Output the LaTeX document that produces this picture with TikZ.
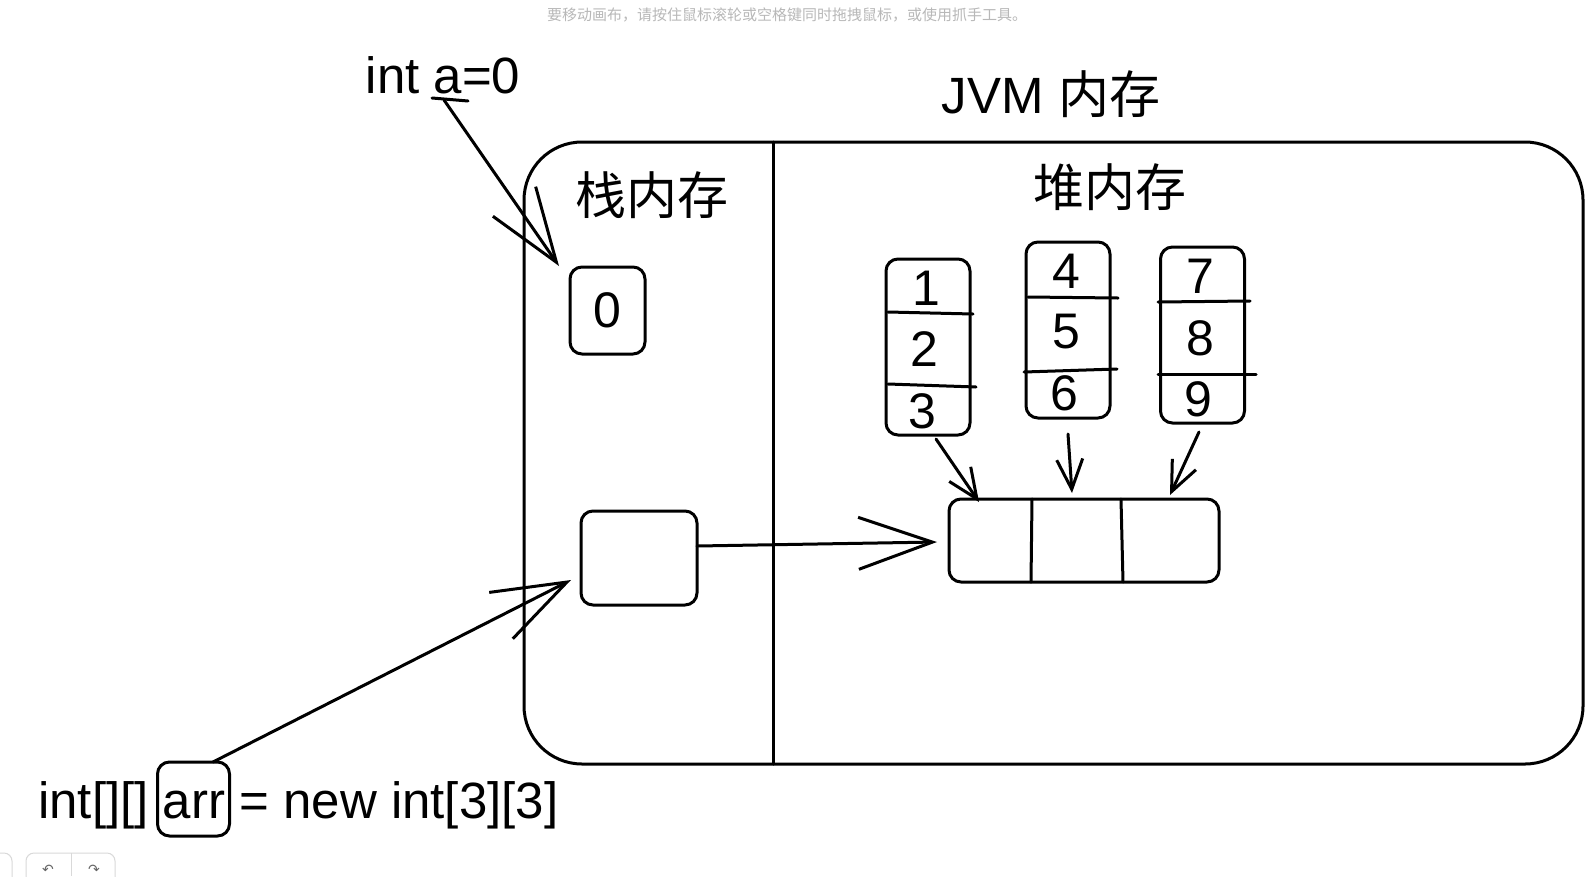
\documentclass[tikz,border=0pt]{standalone}
\usepackage{fontspec}
\setmainfont{Liberation Sans}
\newfontfamily\cjk{Noto Sans CJK SC}
\newfontfamily\djv{DejaVu Sans}
\usetikzlibrary{arrows.meta,calc}
\tikzset{
  ink/.style={line width=3pt, line cap=round, line join=round},
  box/.style={ink, draw, rounded corners=12pt, inner sep=0pt},
  big/.style={font=\fontsize{51}{51}\selectfont, inner sep=0pt},
  num/.style={font=\fontsize{50}{50}\selectfont, inner sep=0pt},
  arrbig/.style={ink, -{Straight Barb[length=74pt, width=52pt, line width=3pt]}},
  arrsmall/.style={ink, -{Straight Barb[length=30pt, width=26pt, line width=3pt]}},
  hint/.style={font=\cjk\fontsize{15}{15}\selectfont, text=black!28, inner sep=0pt},
  ui/.style={draw=black!15, line width=1pt, rounded corners=8pt}
}
\begin{document}
\begin{tikzpicture}[x=1pt,y=-1pt]
\useasboundingbox[fill=white] (0,0) rectangle (1593,876);

% UI hint text and buttons
\node[hint] (hinttext) at (787,15) {要移动画布，请按住鼠标滚轮或空格键同时拖拽鼠标，或使用抓手工具。};
\draw[ui] (-20,853) rectangle (12,890);
\draw[ui] (26,853) rectangle (115,890);
\draw[draw=black!15, line width=1pt] (71,853) -- (71,876);
\node[font=\djv\fontsize{14}{14}\selectfont, text=black!60] (undo) at (48,870) {↶};
\node[font=\djv\fontsize{14}{14}\selectfont, text=black!60] (redo) at (94,870) {↷};

% Titles
\node[big] (inta) at (443,75) {int a=0};
\node[big] (jvmtitle) at (1051,94) {JVM {\cjk 内存}};

% JVM outer box and divider
\node[ink, draw, rounded corners=58pt, minimum width=1059pt, minimum height=622pt, inner sep=0pt] (jvm) at (1053.5,453) {};
\coordinate (divtop) at (773,142);
\coordinate (divbot) at (773,764);
\draw[ink] (divtop) -- (divbot);

\node[big, font=\cjk\fontsize{51}{51}\selectfont] (stack) at (652,195) {栈内存};
\node[big, font=\cjk\fontsize{51}{51}\selectfont] (heap) at (1110,187) {堆内存};

% stack boxes
\node[box, minimum width=75pt, minimum height=87pt, num] (zero) at (607.5,310.5) {0};
\node[box, minimum width=116pt, minimum height=94pt] (ref) at (639,558) {};

% heap columns
\node[box, minimum width=84pt, minimum height=176pt] (c1) at (928,347) {};
\node[box, minimum width=84pt, minimum height=176pt] (c2) at (1068,330) {};
\node[box, minimum width=84pt, minimum height=176pt] (c3) at (1202.5,335) {};

\draw[ink] (888,312) -- (973,314);
\draw[ink] (888,384) -- (976,387);
\draw[ink] (1028,297) -- (1118,298);
\draw[ink] (1024,372) -- (1117,369);
\draw[ink] (1158,302) -- (1250,301);
\draw[ink] (1158,374) -- (1256,374);

\node[num] (n1) at (926,288) {1};
\node[num] (n2) at (924,349) {2};
\node[num] (n3) at (922,411) {3};
\node[num] (n4) at (1066,271) {4};
\node[num] (n5) at (1066,332) {5};
\node[num] (n6) at (1064,393) {6};
\node[num] (n7) at (1200,276) {7};
\node[num] (n8) at (1200,338) {8};
\node[num] (n9) at (1198,399) {9};

% array of references
\node[box, minimum width=270pt, minimum height=83pt] (arr) at (1084,540.5) {};
\draw[ink] (1032,499) -- (1031,582);
\draw[ink] (1121,499) -- (1123,582);

% bottom declaration
\node[big, anchor=west] (decl) at (38,805) {int[][] arr = new int[3][3]};
\node[box, minimum width=72pt, minimum height=74pt] (arrname) at (193.5,799) {};

% connectors
\coordinate (aend) at (444,100);
\coordinate (zerotip) at (559,266);
\draw[arrbig] (aend) -- (zerotip);
\draw[ink] (432,98) -- (468,101);

\coordinate (arrstart) at (213,762);
\coordinate (reftip) at (571,580);
\draw[arrbig] (arrstart) -- (reftip);

\coordinate (refout) at (697,546);
\coordinate (arrtip) at (937,542);
\draw[arrbig] (refout) -- (arrtip);

\coordinate (c1out) at (936,439);
\coordinate (a1tip) at (979,502);
\draw[arrsmall] (c1out) -- (a1tip);
\coordinate (c2out) at (1068,434);
\coordinate (a2tip) at (1072,493);
\draw[arrsmall] (c2out) -- (a2tip);
\coordinate (c3out) at (1199,432);
\coordinate (a3tip) at (1170,495);
\draw[arrsmall] (c3out) -- (a3tip);
\end{tikzpicture}
\end{document}
